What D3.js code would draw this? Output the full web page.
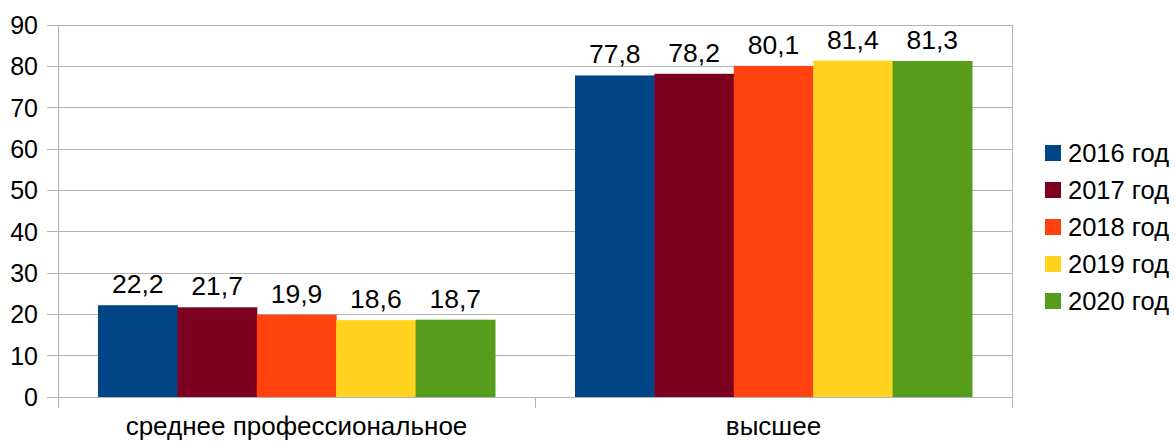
<!DOCTYPE html>
<html><head><meta charset="utf-8">
<script src="https://cdn.jsdelivr.net/npm/d3@7"></script>
<style>body{margin:0;background:#fff}svg{display:block;font-family:"Liberation Sans",Arial,sans-serif}</style>
</head><body><svg id="c" width="1175" height="443"></svg>
<script>
const categories = ["среднее профессиональное", "высшее"];
const seriesNames = ["2016 год", "2017 год", "2018 год", "2019 год", "2020 год"];
const values2016 = [22.2, 77.8];
const values2017 = [21.7, 78.2];
const values2018 = [19.9, 80.1];
const values2019 = [18.6, 81.4];
const values2020 = [18.7, 81.3];
const colors = ["#004586", "#7e0021", "#ff420e", "#ffd320", "#579d1c"];
const yTicks = [0,10,20,30,40,50,60,70,80,90];

const series = [values2016, values2017, values2018, values2019, values2020];
const svg = d3.select("#c");
const L = 58, R = 1012, T = 25, B = 397;
const x = d3.scaleBand().domain(categories).range([L, R]).paddingInner(0).paddingOuter(0);
const y = d3.scaleLinear().domain([0, 90]).range([B, T]);
const inner = d3.scaleBand().domain(d3.range(seriesNames.length)).range([40, x.bandwidth() - 40]).padding(0);
const grid = "#b3b3b3";

// gridlines
svg.append("g").selectAll("line").data(yTicks).join("line")
  .attr("x1", L - 11).attr("x2", R).attr("y1", d => y(d)).attr("y2", d => y(d))
  .attr("stroke", grid).attr("stroke-width", 1).attr("shape-rendering", "crispEdges");
// plot frame verticals
svg.append("line").attr("x1", L).attr("x2", L).attr("y1", T).attr("y2", B + 11).attr("stroke", grid).attr("shape-rendering","crispEdges");
svg.append("line").attr("x1", R).attr("x2", R).attr("y1", T).attr("y2", B + 11).attr("stroke", grid).attr("shape-rendering","crispEdges");
svg.append("line").attr("x1", (L+R)/2).attr("x2", (L+R)/2).attr("y1", B).attr("y2", B + 11).attr("stroke", grid).attr("shape-rendering","crispEdges");

// y labels
svg.append("g").selectAll("text").data(yTicks).join("text")
  .attr("x", 38).attr("y", d => y(d)).attr("dy", "0.36em").attr("text-anchor", "end")
  .attr("font-size", 25).attr("fill", "#000").text(d => d);

const fmt = v => d3.format(".1f")(v).replace(".", ",");
// bars
categories.forEach((c, ci) => {
  series.forEach((s, si) => {
    const bx = x(c) + inner(si);
    svg.append("rect").attr("x", bx).attr("y", y(s[ci])).attr("width", inner.bandwidth() + 0.5)
      .attr("height", y(0) - y(s[ci])).attr("fill", colors[si]);
  });
  series.forEach((s, si) => {
    const bx = x(c) + inner(si);
    svg.append("text").attr("x", bx + inner.bandwidth()/2).attr("y", y(s[ci]) - 12)
      .attr("text-anchor", "middle").attr("font-size", 26.5).attr("fill", "#000").text(fmt(s[ci]));
  });
  svg.append("text").attr("x", x(c) + x.bandwidth()/2).attr("y", 435).attr("text-anchor", "middle")
    .attr("font-size", 26).attr("fill", "#000").text(c);
});

// legend
const lg = svg.append("g");
seriesNames.forEach((n, i) => {
  const ly = 153 + i * 37;
  lg.append("rect").attr("x", 1045).attr("y", ly - 8).attr("width", 16).attr("height", 16).attr("fill", colors[i]);
  lg.append("text").attr("x", 1068).attr("y", ly).attr("dy", "0.36em").attr("font-size", 25.5).attr("fill", "#000").text(n);
});
</script></body></html>
